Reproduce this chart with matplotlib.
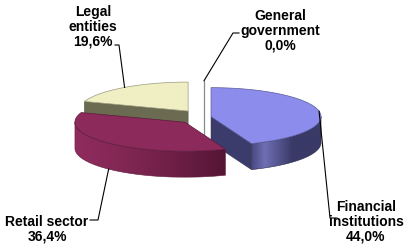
import numpy as np
import matplotlib
matplotlib.use("Agg")
import matplotlib.pyplot as plt
from matplotlib.patches import Polygon
from matplotlib.colors import to_rgb

# ---- data ----
categories = ["Financial\ninstitutions", "Retail sector", "Legal\nentities", "General\ngovernment"]
values = [44.0, 36.4, 19.6, 0.0]
value_labels = ["44,0%", "36,4%", "19,6%", "0,0%"]

# ---- style ----
top_colors = ["#8c8cec", "#8c2a5b", "#efefc3", "#ffffff"]
wall_colors = ["#3c3c6c", "#8a2a5a", "#6b6b52", "#ffffff"]
explode = [0.065, 0.25, 0.25, 0.25]
CX, CY = 204.0, 117.0
RX, RY, H = 110.0, 29.0, 26.0

plt.rcParams['font.family'] = ['Liberation Sans', 'DejaVu Sans']
fig = plt.figure(figsize=(4.04, 2.46), dpi=100)
ax = fig.add_axes([0, 0, 1, 1])

total = sum(values)
angles = []
start = 90.0
for v in values:
    sweep = v / total * 360.0
    angles.append((start - sweep, start))
    start -= sweep

centers = []
for (a, b), e in zip(angles, explode):
    mid = np.radians((a + b) / 2)
    centers.append((CX + e * RX * np.cos(mid), CY - e * RY * np.sin(mid)))


def pt(c, ang_deg, dz=0.0):
    t = np.radians(ang_deg)
    return (c[0] + RX * np.cos(t), c[1] - RY * np.sin(t) + dz)


def lerp(c1, c2, t):
    c1, c2 = np.array(to_rgb(c1)), np.array(to_rgb(c2))
    return c1 + (c2 - c1) * t


def wall_shade(i, t):
    if i == 0:
        if t < 0.18:
            return lerp("#4a4a82", "#6f6fb5", t / 0.18)
        return lerp("#6f6fb5", "#3a3a68", min(1, (t - 0.18) / 0.4))
    if i == 1:
        return lerp("#8e2c5d", "#551535", t ** 1.3)
    return np.array(to_rgb(wall_colors[i]))


def draw_slice(i, z):
    a, b = angles[i]
    c = centers[i]
    if b - a <= 0:
        top = pt(c, b)
        ax.plot([top[0], top[0]], [top[1], c[1] + H], color="#8a8a8a", lw=0.9, zorder=z)
        return
    # radial faces visible from front
    for edge, normal in ((a, a - 90), (b, b + 90)):
        if np.sin(np.radians(normal)) < 0:
            p1 = pt(c, edge)
            quad = [c, p1, (p1[0], p1[1] + H), (c[0], c[1] + H)]
            ax.add_patch(Polygon(quad, closed=True, facecolor=wall_colors[i],
                                 edgecolor=lerp(wall_colors[i], "#000000", 0.2), lw=0.4, zorder=z))
    # curved outer wall (front half) with horizontal gradient
    for lo, hi in ((-180, 0), (-540, -360), (180, 360)):
        s, e = max(a, lo), min(b, hi)
        if e > s:
            ts = np.linspace(s, e, 100)
            upper = [pt(c, t) for t in ts]
            lower = [pt(c, t, H) for t in ts[::-1]]
            ax.add_patch(Polygon(upper + lower, closed=True, facecolor='none',
                                 edgecolor=lerp(wall_colors[i], "#000000", 0.3), lw=0.4,
                                 zorder=z + 0.1))
            xs = [p[0] for p in upper]
            x0, x1 = min(xs), max(xs)
            ys = [p[1] for p in upper + lower]
            y0, y1 = min(ys), max(ys)
            ncol = 200
            img = np.zeros((2, ncol, 3))
            for k in range(ncol):
                img[:, k, :] = wall_shade(i, k / (ncol - 1))
            im = ax.imshow(img, extent=[x0, x1, y1, y0], aspect='auto',
                           interpolation='bilinear', zorder=z)
            im.set_clip_path(Polygon(upper + lower, closed=True, transform=ax.transData))
    # top face
    ts = np.linspace(a, b, 120)
    poly = [c] + [pt(c, t) for t in ts]
    ax.add_patch(Polygon(poly, closed=True, facecolor=top_colors[i],
                         edgecolor=lerp(top_colors[i], "#000000", 0.35), lw=0.5, zorder=z + 0.5))


for z, i in enumerate((2, 3, 0, 1)):
    draw_slice(i, 2 + z)

# ---- labels ----
lab = dict(fontsize=10, fontweight='bold', ha='center', va='center', linespacing=1.05, color='black')

def mid_pt(i, dz=0.0):
    a, b = angles[i]
    return pt(centers[i], (a + b) / 2, dz)

# Financial institutions
ax.text(366, 222, categories[0] + "\n" + value_labels[0], **lab)
p = mid_pt(0)
ax.plot([p[0], 330, 337], [p[1], 218, 218], color='black', lw=0.8, zorder=10)
# Retail sector
ax.text(47, 229, categories[1] + "\n" + value_labels[1], **lab)
p = mid_pt(1, H)
ax.plot([90, 98, p[0]], [220, 220, p[1]], color='black', lw=0.8, zorder=10)
# Legal entities
ax.text(93, 27, categories[2] + "\n" + value_labels[2], **lab)
p = mid_pt(2)
ax.plot([115, 119, p[0]], [45, 45, p[1]], color='black', lw=0.8, zorder=10)
# General government
ax.text(280, 31, categories[3] + "\n" + value_labels[3], **lab)
p = mid_pt(3)
ax.plot([239, 233, p[0]], [33, 33, p[1]], color='black', lw=0.8, zorder=10)

ax.set_xlim(0, 404)
ax.set_ylim(246, 0)
ax.axis('off')
fig.savefig("out.png", dpi=100)
